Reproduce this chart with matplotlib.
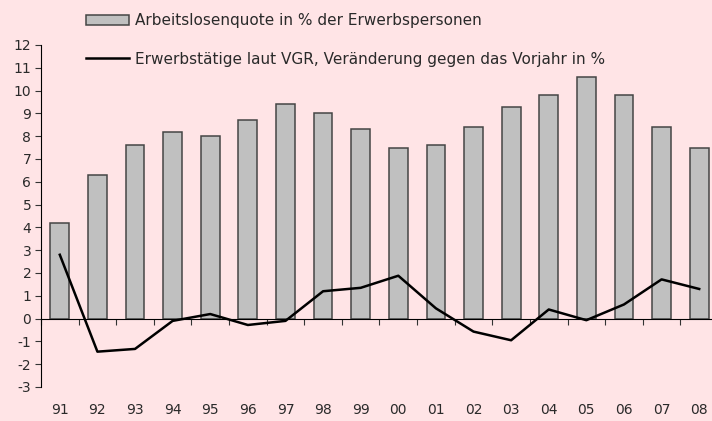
import numpy as np
import matplotlib
matplotlib.use('Agg')
import matplotlib.pyplot as plt
from matplotlib.transforms import blended_transform_factory

years = ['91', '92', '93', '94', '95', '96', '97', '98', '99',
         '00', '01', '02', '03', '04', '05', '06', '07', '08']
arbeitslosenquote = [4.2, 6.3, 7.6, 8.2, 8.0, 8.7, 9.4, 9.0, 8.3,
                     7.5, 7.6, 8.4, 9.3, 9.8, 10.6, 9.8, 8.4, 7.5]
erwerbstaetige = [2.8, -1.45, -1.33, -0.1, 0.2, -0.28, -0.1, 1.2, 1.35,
                  1.88, 0.45, -0.57, -0.95, 0.4, -0.07, 0.62, 1.72, 1.3]

bar_label = 'Arbeitslosenquote in % der Erwerbspersonen'
line_label = 'Erwerbstätige laut VGR, Veränderung gegen das Vorjahr in %'

bg = '#ffe4e6'
txt = '#2a2a2a'
plt.rcParams['font.family'] = ['DejaVu Sans']

fig = plt.figure(figsize=(7.12, 4.21), dpi=100, facecolor=bg)
ax = fig.add_axes([41 / 712, 34 / 421, 677 / 712, 342 / 421])
ax.set_facecolor(bg)

x = np.arange(len(years))
bars = ax.bar(x, arbeitslosenquote, width=0.5, color='#c0c0c0',
              edgecolor='#454545', linewidth=1.1, label=bar_label, zorder=2)
line, = ax.plot(x, erwerbstaetige, color='black', linewidth=1.8,
                label=line_label, zorder=3)

ax.set_xlim(-0.5, len(years) - 0.5)
ax.set_ylim(-3, 12)
ax.set_yticks(range(-3, 13))
ax.set_yticklabels([str(v) for v in range(-3, 13)])

ax.spines['top'].set_visible(False)
ax.spines['right'].set_visible(False)
ax.spines['bottom'].set_position(('data', 0))
ax.spines['bottom'].set_zorder(4)
ax.spines['left'].set_bounds(-3, 12)

ax.set_xticks(np.arange(-0.5, len(years) - 0.5, 1.0))
ax.set_xticklabels([])
ax.tick_params(axis='x', direction='out', length=4, width=0.8, color='#333333')
ax.tick_params(axis='y', direction='out', length=4, width=0.8, color='#333333',
               labelsize=10, pad=3, labelcolor=txt)

trans = blended_transform_factory(ax.transData, ax.transAxes)
for i, yr in enumerate(years):
    ax.text(i, -0.067, yr, transform=trans, ha='center', va='center',
            fontsize=10, color=txt)

leg = fig.legend(handles=[bars, line], labels=[bar_label, line_label],
                 loc='upper left', bbox_to_anchor=(86 / 712, 1 - 13 / 421),
                 frameon=False, fontsize=11, handlelength=2.8, handleheight=0.65,
                 handletextpad=0.4, labelspacing=1.55, borderpad=0, borderaxespad=0)
for t in leg.get_texts():
    t.set_color(txt)

fig.savefig('out.png', dpi=100, facecolor=bg)
